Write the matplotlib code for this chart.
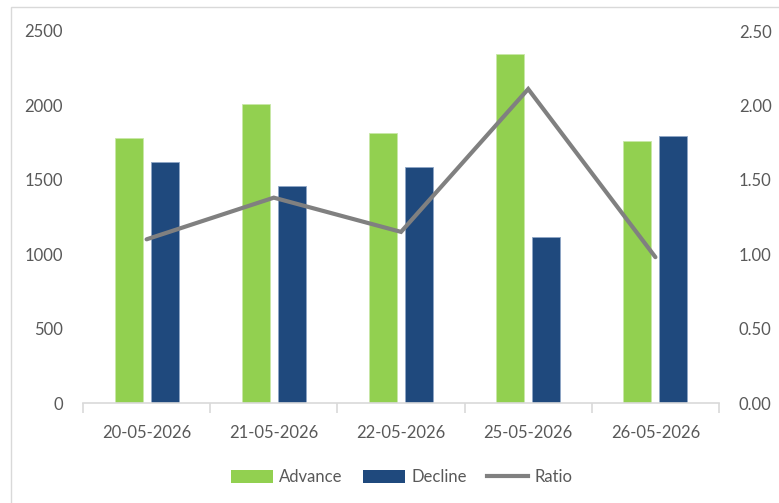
import matplotlib.pyplot as plt
import numpy as np
from matplotlib.patches import Patch
from matplotlib.lines import Line2D

# values
dates = ["20-05-2026", "21-05-2026", "22-05-2026", "25-05-2026", "26-05-2026"]
advance = [1783, 2007, 1816, 2346, 1758]
decline = [1622, 1455, 1586, 1115, 1794]
ratio = [1.10, 1.38, 1.15, 2.11, 0.98]

green = '#92D050'
blue = '#1F497D'
grey = '#808080'
txt = '#595959'

plt.rcParams['font.family'] = ['Lato', 'DejaVu Sans']
fs = 12

fig = plt.figure(figsize=(7.79, 5.03), dpi=100)
ax = fig.add_axes([83 / 779, 1 - 403 / 503, 636 / 779, 372 / 503])

x = np.arange(len(dates))
w = 0.22
ax.bar(x - 0.142, advance, w, color=green, edgecolor='#c8e8a8', linewidth=0.6, zorder=2)
ax.bar(x + 0.142, decline, w, color=blue, edgecolor='#8ea6c6', linewidth=0.6, zorder=2)

ax.set_xlim(-0.5, len(dates) - 0.5)
ax.set_ylim(0, 2500)
ax.set_yticks(np.arange(0, 2501, 500))
ax.set_xticks(x)
ax.set_xticklabels(dates)
ax.set_xticks(np.arange(-0.5, len(dates), 1), minor=True)

for s in ['top', 'left', 'right']:
    ax.spines[s].set_visible(False)
ax.spines['bottom'].set_color('#d9d9d9')
ax.spines['bottom'].set_linewidth(1.2)
ax.tick_params(axis='y', length=0, pad=14.4, labelsize=fs, labelcolor=txt)
ax.tick_params(axis='x', which='major', length=0, pad=16, labelsize=fs, labelcolor=txt)
ax.tick_params(axis='x', which='minor', length=7, width=1.2, color='#d9d9d9')

ax2 = ax.twinx()
ax2.plot(x, ratio, color=grey, linewidth=3, solid_capstyle='round',
         solid_joinstyle='miter', zorder=3)
ax2.set_ylim(0, 2.5)
ax2.set_yticks(np.arange(0, 2.51, 0.5))
ax2.set_yticklabels([f"{v:.2f}" for v in np.arange(0, 2.51, 0.5)])
for s in ['top', 'left', 'right', 'bottom']:
    ax2.spines[s].set_visible(False)
ax2.tick_params(axis='y', length=0, pad=14.4, labelsize=fs, labelcolor=txt)

handles = [Patch(facecolor=green, label='Advance'),
           Patch(facecolor=blue, label='Decline'),
           Line2D([0], [0], color=grey, linewidth=3, label='Ratio')]
leg = fig.legend(handles=handles, loc='center', bbox_to_anchor=(402 / 779, 1 - 477 / 503),
                 ncol=3, frameon=False, fontsize=fs, handlelength=2.5,
                 handleheight=0.8, handletextpad=0.4, columnspacing=1.2)
for t in leg.get_texts():
    t.set_color(txt)

# outer chart border (only left/top visible in the crop)
fig.add_artist(plt.Rectangle((11 / 779, -0.1), 1.2, 1 - 7 / 503 + 0.1,
                             transform=fig.transFigure, fill=False,
                             edgecolor='#d9d9d9', linewidth=1))

fig.savefig('out.png', dpi=100)
